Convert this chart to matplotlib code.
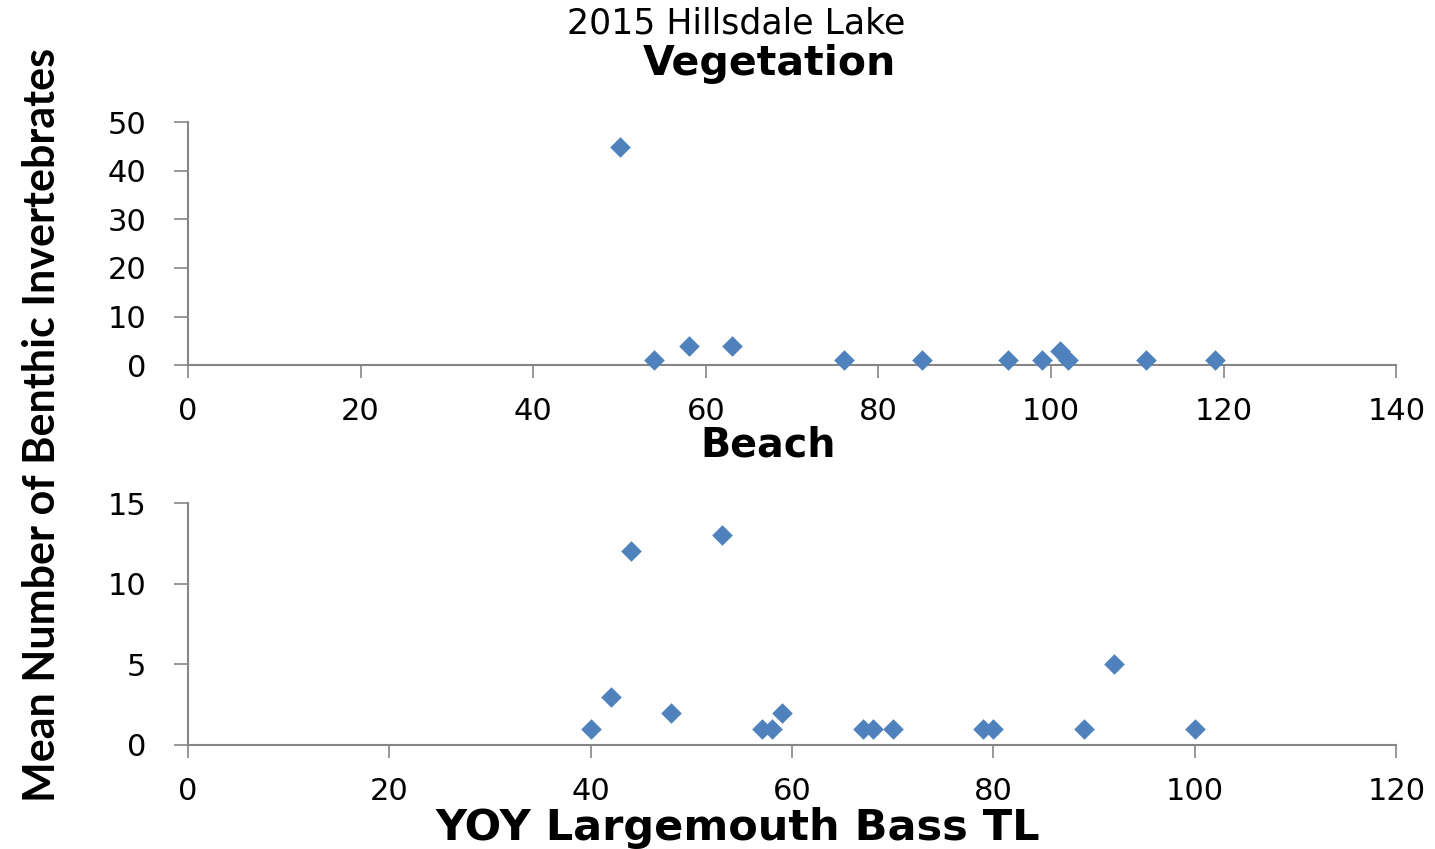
import matplotlib
matplotlib.use('Agg')
import matplotlib.pyplot as plt

# Vegetation site
veg_tl = [50, 54, 58, 63, 76, 85, 95, 99, 101, 102, 111, 119]
veg_inv = [45, 1, 4, 4, 1, 1, 1, 1, 3, 1, 1, 1]

# Beach site
beach_tl = [40, 42, 44, 48, 53, 57, 58, 59, 67, 68, 70, 79, 80, 89, 92, 100]
beach_inv = [1, 3, 12, 2, 13, 1, 1, 2, 1, 1, 1, 1, 1, 1, 5, 1]

veg_xticks = [0, 20, 40, 60, 80, 100, 120, 140]
veg_yticks = [0, 10, 20, 30, 40, 50]
beach_xticks = [0, 20, 40, 60, 80, 100, 120]
beach_yticks = [0, 5, 10, 15]

marker_color = '#4F81BD'
axis_color = '#868686'

fig = plt.figure(figsize=(14.35, 8.49), dpi=100)
ax1 = fig.add_axes([0.131, 0.570, 0.842, 0.286])
ax2 = fig.add_axes([0.131, 0.1225, 0.842, 0.285])


def style_axis(ax, xticks, yticks):
    ax.set_xlim(xticks[0], xticks[-1])
    ax.set_ylim(yticks[0], yticks[-1])
    ax.set_xticks(xticks)
    ax.set_yticks(yticks)
    for side in ['top', 'right']:
        ax.spines[side].set_visible(False)
    for side in ['bottom', 'left']:
        ax.spines[side].set_color(axis_color)
        ax.spines[side].set_linewidth(1.5)
    ax.tick_params(axis='x', direction='out', length=9, width=1.2,
                   color=axis_color, pad=14, labelsize=22)
    ax.tick_params(axis='y', direction='out', length=10, width=1.2,
                   color=axis_color, pad=20, labelsize=22)


ax1.scatter(veg_tl, veg_inv, marker='D', s=110, color=marker_color,
            linewidths=0, clip_on=False, zorder=3)
style_axis(ax1, veg_xticks, veg_yticks)

ax2.scatter(beach_tl, beach_inv, marker='D', s=110, color=marker_color,
            linewidths=0, clip_on=False, zorder=3)
style_axis(ax2, beach_xticks, beach_yticks)

fig.text(0.513, 0.972, '2015 Hillsdale Lake', ha='center', va='center',
         fontsize=25)
fig.text(0.536, 0.925, 'Vegetation', ha='center', va='center',
         fontsize=29.5, fontweight='bold')
fig.text(0.535, 0.475, 'Beach', ha='center', va='center',
         fontsize=28.5, fontweight='bold')
fig.text(0.514, 0.025, 'YOY Largemouth Bass TL', ha='center', va='center',
         fontsize=31, fontweight='bold')
fig.text(0.029, 0.5, 'Mean Number of Benthic Invertebrates', ha='center',
         va='center', rotation=90, fontsize=31, fontweight='bold',
         family=['Lato', 'DejaVu Sans'])

fig.savefig('out.png', dpi=100)
